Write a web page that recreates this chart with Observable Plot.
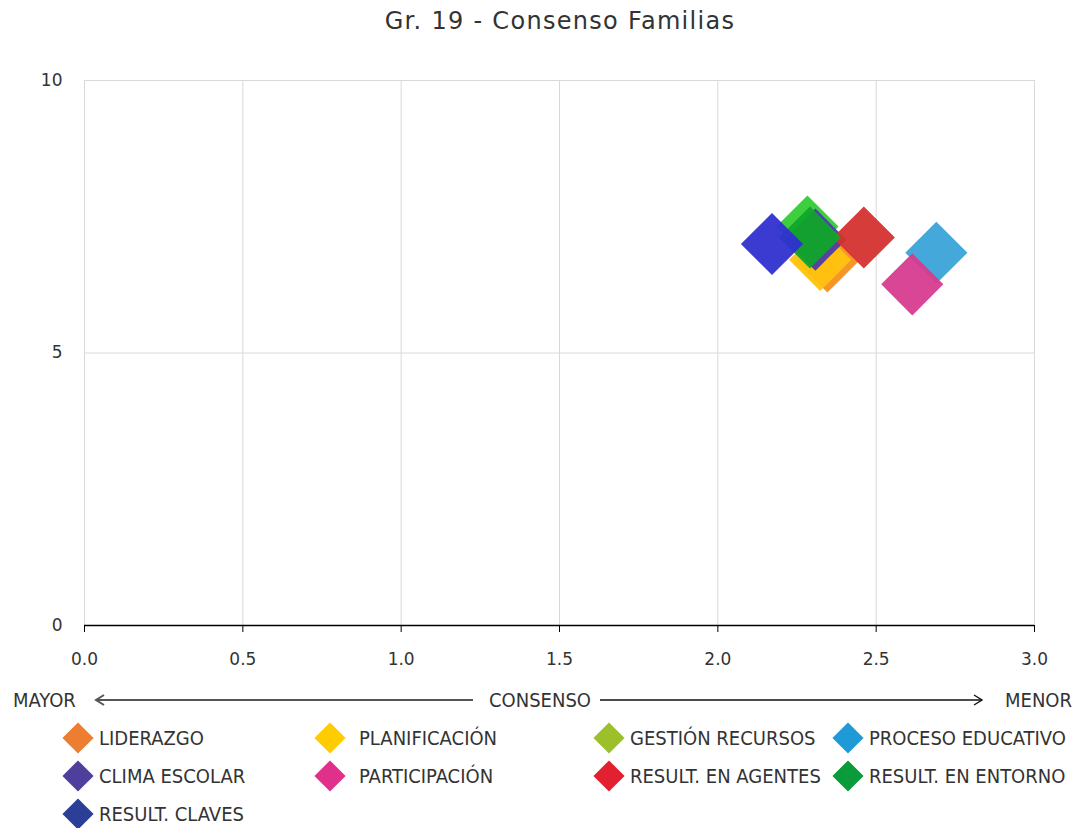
<!DOCTYPE html>
<html>
<head>
<meta charset="utf-8">
<script src="https://cdn.jsdelivr.net/npm/d3@7"></script>
<script src="https://cdn.jsdelivr.net/npm/@observablehq/plot@0.6"></script>
<style>
  html, body { margin: 0; padding: 0; background: #fff; }
  #wrap { position: relative; width: 1078px; height: 828px; overflow: hidden; font-family: "DejaVu Sans", Verdana, sans-serif; }
  #title { position: absolute; left: 0; top: 6px; width: 1120px; text-align: center; font-size: 24px; letter-spacing: 1.3px; color: #333; line-height: 30px; }
  #chart { position: absolute; left: 0; top: 50px; }
  .lg { position: absolute; font-family: "Liberation Sans Narrow", "DejaVu Sans Condensed", sans-serif; font-size: 20px; color: #333; line-height: 24px; white-space: nowrap; }
  .dia { position: absolute; width: 22px; height: 22px; transform: rotate(45deg); }
</style>
</head>
<body>
<div id="wrap">
  <div id="title">Gr. 19 - Consenso Familias</div>
  <div id="chart"></div>
  <svg id="arrows" style="position:absolute;left:0;top:688px" width="1078" height="24">
    <line x1="96" y1="12" x2="473" y2="12" stroke="#555" stroke-width="2"/>
    <polyline points="104,7 96,12 104,17" fill="none" stroke="#555" stroke-width="2"/>
    <line x1="600" y1="12" x2="982" y2="12" stroke="#111" stroke-width="1.4"/>
    <polyline points="974,7 982,12 974,17" fill="none" stroke="#111" stroke-width="1.4"/>
  </svg>
  <div id="legend"></div>
</div>
<script>
// ---- data ----
const categories = ["LIDERAZGO", "PLANIFICACIÓN", "GESTIÓN RECURSOS", "PROCESO EDUCATIVO", "CLIMA ESCOLAR", "PARTICIPACIÓN", "RESULT. EN AGENTES", "RESULT. EN ENTORNO", "RESULT. CLAVES"];
const consenso   = [2.346, 2.323, 2.283, 2.690, 2.308, 2.614, 2.461, 2.291, 2.171];
const valoracion = [6.68, 6.71, 7.32, 6.84, 7.08, 6.26, 7.12, 7.12, 7.00];
const chartColors  = ["#f5901e", "#ffc20e", "#33cc33", "#3aa3d8", "#4e3bab", "#d63c8f", "#d4322e", "#10a52a", "#3030d0"];
const legendColors = ["#ed7d31", "#ffcc00", "#9bc02b", "#1e9ad6", "#4f3f9d", "#e0308a", "#e32030", "#0a9b3a", "#2a3f95"];
const xTicks = [0, 0.5, 1, 1.5, 2, 2.5, 3];
const yTicks = [0, 5, 10];
const axisLeftLabel = "MAYOR", axisMidLabel = "CONSENSO", axisRightLabel = "MENOR";

const data = categories.map((c, i) => ({cat: c, x: consenso[i], y: valoracion[i]}));

const chart = Plot.plot({
  width: 1078,
  height: 640,
  marginTop: 30,
  marginBottom: 65,
  marginLeft: 84,
  marginRight: 44,
  style: {fontFamily: "'DejaVu Sans', Verdana, sans-serif", background: "#fff"},
  x: {domain: [0, 3]},
  y: {domain: [0, 10]},
  color: {domain: categories, range: chartColors},
  marks: [
    Plot.gridX(xTicks, {stroke: "#d9d9d9", strokeOpacity: 1, strokeWidth: 1}),
    Plot.gridY(yTicks.filter(d => d > 0), {stroke: "#d9d9d9", strokeOpacity: 1, strokeWidth: 1}),
    Plot.axisY(yTicks, {tickSize: 0, tickPadding: 22, fontSize: 17, fill: "#333", tickFormat: d => String(d), label: null}),
    Plot.axisX(xTicks, {tickSize: 7, tickPadding: 20, fontSize: 17, fill: "#333", stroke: "#000", tickFormat: d => d.toFixed(1), label: null}),
    Plot.ruleY([0], {stroke: "#000", strokeWidth: 1.5}),
    Plot.dot(data, {x: "x", y: "y", symbol: "diamond2", r: 28, fill: "cat", fillOpacity: 0.95, stroke: "none"})
  ]
});
document.getElementById("chart").appendChild(chart);

// ---- axis direction labels ----
const wrap = document.getElementById("wrap");
function addText(txt, left, top) {
  const d = document.createElement("div");
  d.className = "lg";
  d.textContent = txt;
  d.style.left = left + "px";
  d.style.top = top + "px";
  wrap.appendChild(d);
  return d;
}
addText(axisLeftLabel, 13, 688);
addText(axisMidLabel, 489, 688);
addText(axisRightLabel, 1005, 688);

// ---- legend ----
const colX = [78, 330, 609, 848];
const textX = [99, 359, 630, 869];
const rowY = [738, 776, 814];
categories.forEach((c, i) => {
  const col = i % 4, row = Math.floor(i / 4);
  const dia = document.createElement("div");
  dia.className = "dia";
  dia.style.background = legendColors[i];
  dia.style.left = (colX[col] - 11) + "px";
  dia.style.top = (rowY[row] - 11) + "px";
  wrap.appendChild(dia);
  addText(c, textX[col], rowY[row] - 12);
});
</script>
</body>
</html>
